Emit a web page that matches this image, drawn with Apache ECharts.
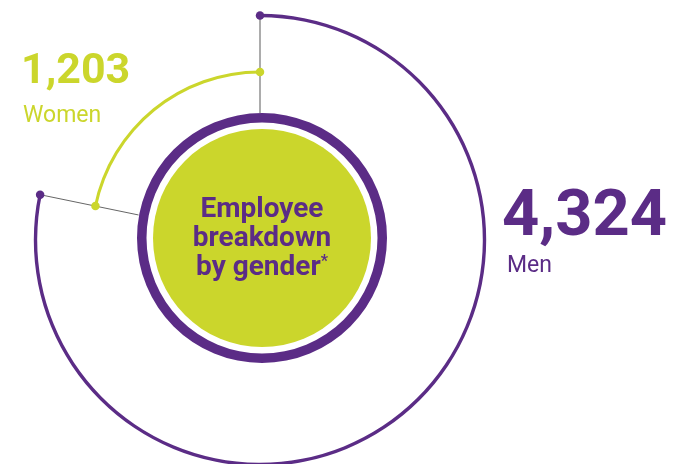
<!DOCTYPE html>
<html>
<head>
<meta charset="utf-8">
<style>
  html, body { margin: 0; padding: 0; background: #ffffff; }
  #chart { width: 674px; height: 464px; }
</style>
<script src="https://cdn.jsdelivr.net/npm/echarts@6/dist/echarts.min.js"></script>
</head>
<body>
<div id="chart"></div>
<script>
// ---- data ----
const categories = ['Men', 'Women'];
const values = [4324, 1203];
const centerTitle = ['Employee', 'breakdown', 'by gender'];
const footnoteMark = '*';

// ---- styles ----
const PURPLE = '#5b2c86';
const LIME = '#cbd62c';
const total = values[0] + values[1];
const fmt = v => v.toLocaleString('en-US');

const chart = echarts.init(document.getElementById('chart'), null, { renderer: 'canvas' });

const OUTER_R = 224.5;
const LIME_R = 168;
const RING_R = 126;

const option = {
  animation: false,
  backgroundColor: '#ffffff',
  polar: { center: [260, 240], radius: OUTER_R },
  angleAxis: { type: 'value', min: 0, max: total, startAngle: 90, clockwise: true, show: false },
  radiusAxis: { type: 'value', min: 0, max: OUTER_R, show: false },
  series: [
    {
      type: 'pie', silent: true, center: [260, 240], radius: [222.8, 226.2],
      startAngle: 90, clockwise: true, label: { show: false }, labelLine: { show: false },
      emphasis: { disabled: true }, itemStyle: { borderWidth: 0 }, z: 3,
      data: [
        { name: categories[0], value: values[0], itemStyle: { color: PURPLE } },
        { name: categories[1], value: values[1], itemStyle: { color: 'rgba(0,0,0,0)' } }
      ]
    },
    {
      type: 'pie', silent: true, center: [260, 240], radius: [166.5, 169.5],
      startAngle: 90, clockwise: false, label: { show: false }, labelLine: { show: false },
      emphasis: { disabled: true }, itemStyle: { borderWidth: 0 }, z: 3,
      data: [
        { name: categories[1], value: values[1], itemStyle: { color: LIME } },
        { name: categories[0], value: values[0], itemStyle: { color: 'rgba(0,0,0,0)' } }
      ]
    },
    {
      type: 'pie', silent: true, center: [262, 238], radius: [115.5, 125],
      label: { show: false }, labelLine: { show: false }, emphasis: { disabled: true },
      itemStyle: { borderWidth: 0, color: PURPLE }, z: 4,
      data: [{ name: 'ring', value: total }]
    },
    {
      type: 'pie', silent: true, center: [262, 238], radius: [0, 109],
      label: { show: false }, labelLine: { show: false }, emphasis: { disabled: true },
      itemStyle: { borderWidth: 0, color: LIME }, z: 4,
      data: [{ name: 'disc', value: total }]
    },
    {
      type: 'line', coordinateSystem: 'polar', silent: true, symbol: 'none', z: 2,
      lineStyle: { color: '#a3a3a3', width: 1.8 },
      data: [[RING_R + 1, 0], [OUTER_R, 0]]
    },
    {
      type: 'line', coordinateSystem: 'polar', silent: true, symbol: 'none', z: 2,
      lineStyle: { color: '#666666', width: 1 },
      data: [[RING_R - 2, values[0]], [OUTER_R, values[0]]]
    },
    {
      type: 'scatter', coordinateSystem: 'polar', silent: true, symbolSize: 8.5, z: 6,
      itemStyle: { color: PURPLE, opacity: 1 },
      data: [[OUTER_R, 0], [OUTER_R, values[0]]]
    },
    {
      type: 'scatter', coordinateSystem: 'polar', silent: true, symbolSize: 8.5, z: 6,
      itemStyle: { color: LIME, opacity: 1 },
      data: [[LIME_R, 0], [LIME_R, values[0]]]
    }
  ],
  graphic: [
    {
      type: 'text', x: 21, y: 72, z: 10, silent: true,
      style: { text: fmt(values[1]), font: 'bold 43px Roboto', fill: LIME, align: 'left', verticalAlign: 'middle' }
    },
    {
      type: 'text', x: 23, y: 116, z: 10, silent: true,
      style: { text: categories[1], font: '23px Roboto', fill: LIME, align: 'left', verticalAlign: 'middle' }
    },
    {
      type: 'text', x: 502, y: 219, z: 10, silent: true,
      style: { text: fmt(values[0]), font: 'bold 65px Roboto', fill: PURPLE, align: 'left', verticalAlign: 'middle' }
    },
    {
      type: 'text', x: 507, y: 266, z: 10, silent: true,
      style: { text: categories[0], font: '23px Roboto', fill: PURPLE, align: 'left', verticalAlign: 'middle' }
    },
    {
      type: 'text', x: 262, y: 239, z: 10, silent: true,
      style: {
        text: centerTitle[0] + '\n' + centerTitle[1] + '\n' + centerTitle[2] + '{sup|' + footnoteMark + '}',
        font: 'bold 28px Roboto', fill: PURPLE, align: 'center', verticalAlign: 'middle', lineHeight: 29,
        rich: { sup: { fontSize: 16, fontWeight: 'bold', fontFamily: 'Roboto', fill: PURPLE, color: PURPLE, verticalAlign: 'top', lineHeight: 29 } }
      }
    }
  ]
};
chart.setOption(option);
</script>
</body>
</html>
